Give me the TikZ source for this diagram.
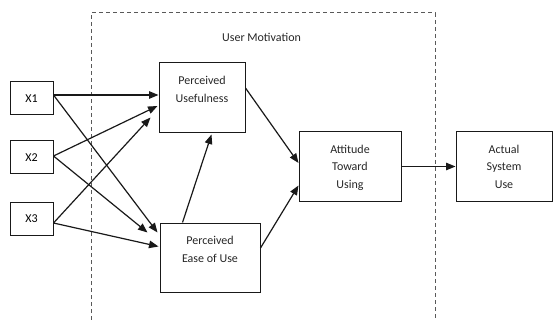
\documentclass[tikz,border=0pt]{standalone}
\usepackage{fontspec}
\setmainfont{Carlito}
\usetikzlibrary{arrows.meta,positioning,calc}
\tikzset{
  box/.style={draw=black!90, line width=1pt, inner sep=0pt},
  boxtext/.style={align=center, inner sep=0pt, text=black!85},
  arrow/.style={-{Triangle[length=9.5pt,width=7.5pt]}, line width=1.2pt, draw=black!90},
  frame/.style={draw=black!65, line width=1pt, dash pattern=on 4pt off 3pt}
}
\begin{document}
\begin{tikzpicture}[x=1pt,y=-1pt,font=\fontsize{12}{17.7}\selectfont]
        \useasboundingbox (0,0) rectangle (553,320);

        % Draw the dashed frame (open at the bottom)
        \draw[frame] (91,320) -- (91,13) -- (435,13) -- (435,320);
        \node[boxtext] (motivation) at (261.5,37) {User Motivation};

        % Draw the three input boxes
        \node[box, minimum width=43pt, minimum height=33pt] (x1) at (31.5,98.5) {X1};
        \node[box, minimum width=43pt, minimum height=33pt] (x2) at (31.5,157.5) {X2};
        \node[box, minimum width=43pt, minimum height=33pt] (x3) at (31.5,218.5) {X3};

        % Draw the four model boxes (text sits near the top)
        \node[box, minimum width=86pt, minimum height=70pt] (pu) at (202,98) {};
        \node[boxtext, below=13.5pt of pu.north] (pu text) {Perceived\\Usefulness};
        \node[box, minimum width=100pt, minimum height=69pt] (peou) at (210,257.5) {};
        \node[boxtext, below=13.5pt of peou.north] (peou text) {Perceived\\Ease of Use};
        \node[box, minimum width=102pt, minimum height=69pt] (att) at (350,166.5) {};
        \node[boxtext, below=13pt of att.north] (att text) {Attitude\\Toward\\Using};
        \node[box, minimum width=96pt, minimum height=69pt] (asu) at (504,166.5) {};
        \node[boxtext, below=13pt of asu.north] (asu text) {Actual\\System\\Use};

        % Arrows from the inputs
        \draw[arrow] ($(x1.east)+(0,-3.5)$) -- ($(pu.west)+(0,-3)$);
        \draw[arrow] ($(x1.east)+(0,-3.5)$) -- ($(peou.north west)+(-2,10)$);
        \draw[arrow] ($(x2.east)+(0,-1.5)$) -- ($(pu.west)+(-1,8)$);
        \draw[arrow] ($(x2.east)+(0,-1.5)$) -- ($(peou.north west)+(-12,10)$);
        \draw[arrow] ($(x3.east)+(0,4.5)$) -- ($(pu.south west)+(-8,-16)$);
        \draw[arrow] ($(x3.east)+(0,4.5)$) -- ($(peou.west)+(-1,-11)$);

        % Arrows inside the model
        \draw[arrow] ($(peou.north west)+(23,0)$) -- ($(pu.south west)+(53,1)$);
        \draw[arrow] ($(pu.east)+(0,-10)$) -- ($(att.west)+(0,-3.5)$);
        \draw[arrow] ($(peou.east)+(0,-9.5)$) -- ($(att.west)+(0,19)$);
        \draw[arrow] (att.east) -- (asu.west);
\end{tikzpicture}
\end{document}
